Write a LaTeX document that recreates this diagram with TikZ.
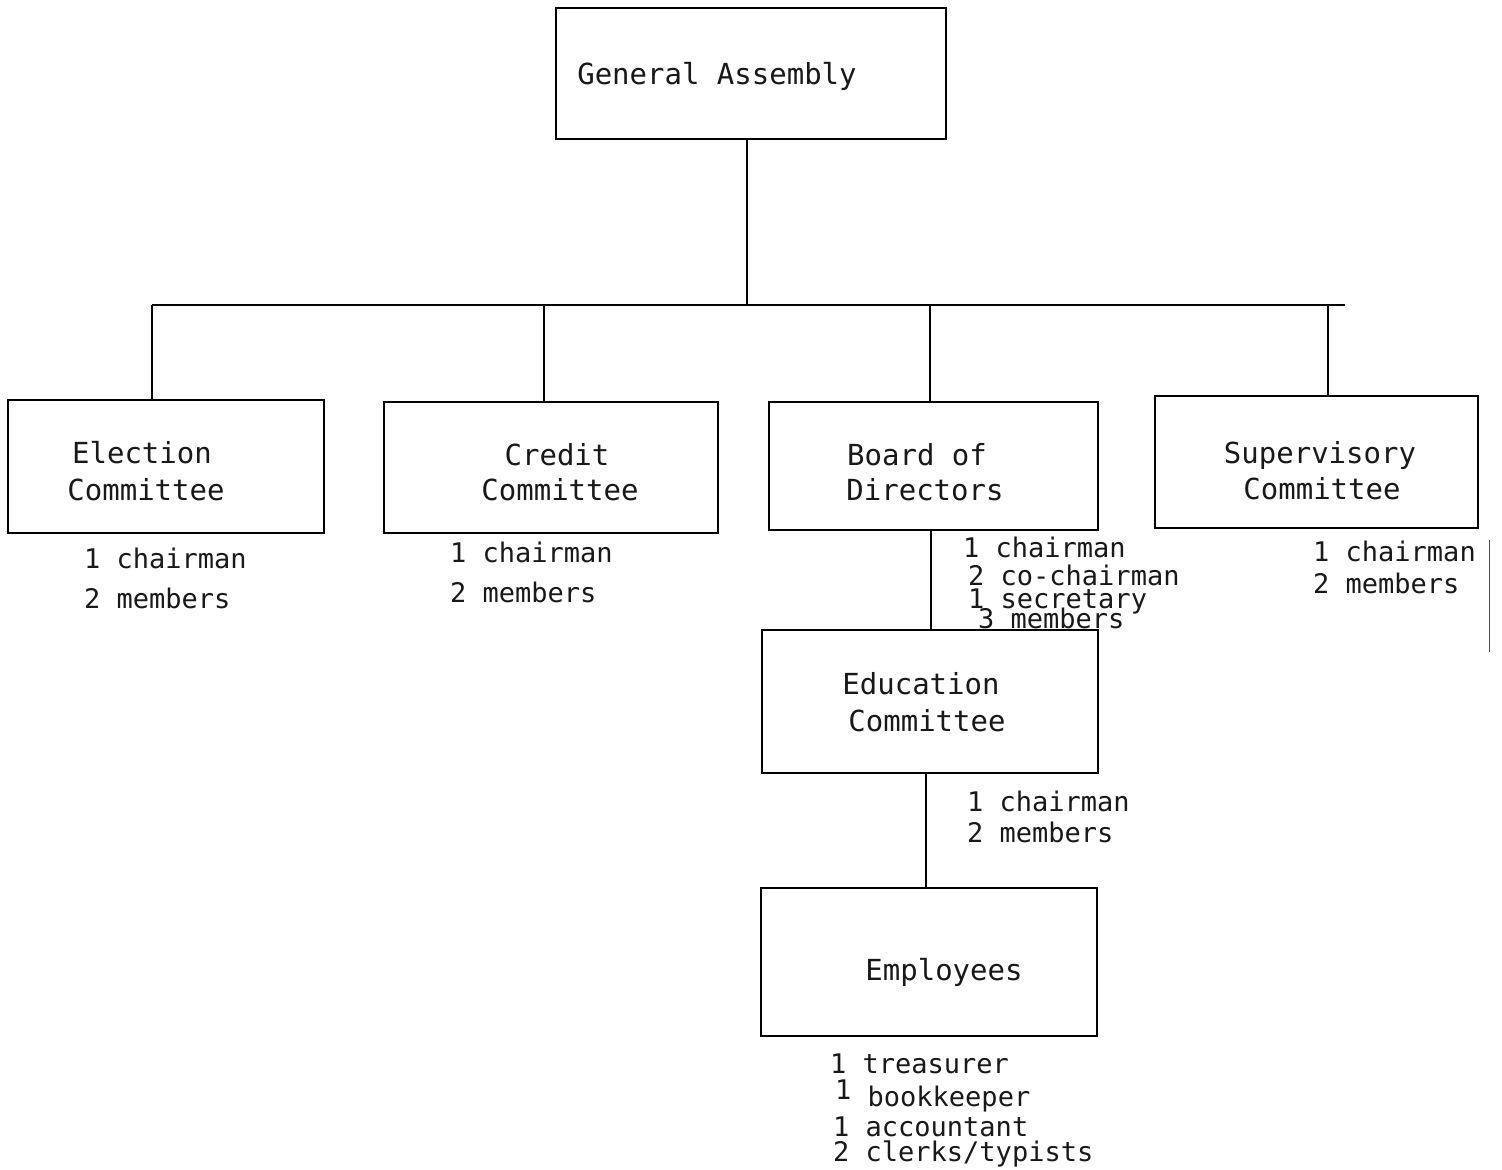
\documentclass[tikz,border=0pt]{standalone}
\usepackage{fontspec}
\newfontfamily\tw{DejaVu Sans Mono}
\begin{document}
\begin{tikzpicture}[x=1pt,y=-1pt,
  orgbox/.style={draw=black, line width=2.4pt, inner sep=0pt, fill=none},
  conn/.style={draw=black, line width=2.2pt},
  boxtxt/.style={anchor=base, inner sep=0pt, text=black!90, font=\tw\fontsize{29}{32}\selectfont},
  lbltxt/.style={anchor=base west, inner sep=0pt, text=black!90, font=\tw\fontsize{27}{30}\selectfont}]
\useasboundingbox (0,0) rectangle (1502,1170);
\fill[white] (0,0) rectangle (1502,1170);

% boxes
\node[orgbox, minimum width=390pt, minimum height=131pt] (ga) at (751,73.5) {};
\node[orgbox, minimum width=316pt, minimum height=133pt] (elec) at (166,466.5) {};
\node[orgbox, minimum width=334pt, minimum height=131pt] (cred) at (551,467.5) {};
\node[orgbox, minimum width=329pt, minimum height=128pt] (board) at (933.5,466) {};
\node[orgbox, minimum width=323pt, minimum height=132pt] (sup) at (1316.5,462) {};
\node[orgbox, minimum width=336pt, minimum height=143pt] (edu) at (930,701.5) {};
\node[orgbox, minimum width=336pt, minimum height=148pt] (emp) at (929,962) {};

% box texts
\node[boxtxt] (ga-t) at (717,84) {General Assembly};
\node[boxtxt] (elec-t1) at (142,463) {Election};
\node[boxtxt] (elec-t2) at (146,500) {Committee};
\node[boxtxt] (cred-t1) at (557,465) {Credit};
\node[boxtxt] (cred-t2) at (560,500) {Committee};
\node[boxtxt] (board-t1) at (917,465) {Board of};
\node[boxtxt] (board-t2) at (925,500) {Directors};
\node[boxtxt] (sup-t1) at (1320,463) {Supervisory};
\node[boxtxt] (sup-t2) at (1322,499) {Committee};
\node[boxtxt] (edu-t1) at (921,694) {Education};
\node[boxtxt] (edu-t2) at (927,731) {Committee};
\node[boxtxt] (emp-t) at (944,980) {Employees};

% member labels
\node[lbltxt] (elec-l1) at (84,568) {1 chairman};
\node[lbltxt] (elec-l2) at (84,608) {2 members};
\node[lbltxt] (cred-l1) at (450,562) {1 chairman};
\node[lbltxt] (cred-l2) at (450,602) {2 members};
\node[lbltxt] (board-l1) at (963,557) {1 chairman};
\node[lbltxt] (board-l2) at (968,585) {2 co-chairman};
\node[lbltxt] (board-l3) at (968,608) {1 secretary};
\node[lbltxt] (board-l4) at (978,628) {3 members};
\node[lbltxt] (sup-l1) at (1313,561) {1 chairman};
\node[lbltxt] (sup-l2) at (1313,593) {2 members};
\node[lbltxt] (edu-l1) at (967,811) {1 chairman};
\node[lbltxt] (edu-l2) at (967,842) {2 members};
\node[lbltxt] (emp-l1) at (830,1073) {1 treasurer};
\node[lbltxt] (emp-l2) at (835,1106) {\raisebox{7pt}{1} bookkeeper};
\node[lbltxt] (emp-l3) at (833,1136) {1 accountant};
\node[lbltxt] (emp-l4) at (833,1161) {2 clerks/typists};

% connectors
\coordinate (busC) at (747,305);
\coordinate (busL) at (152,305);
\coordinate (busR) at (1345,305);
\coordinate (d2) at (544,305);
\coordinate (d3) at (930,305);
\coordinate (d4) at (1328,305);
\coordinate (bd) at (931,0);
\coordinate (ed) at (926,0);
\draw[conn] (busC |- ga.south) -- (busC);
\draw[conn] (busL) -- (busR);
\draw[conn] (busL) -- (busL |- elec.north);
\draw[conn] (d2) -- (d2 |- cred.north);
\draw[conn] (d3) -- (d3 |- board.north);
\draw[conn] (d4) -- (d4 |- sup.north);
\draw[conn] (bd |- board.south) -- (bd |- edu.north);
\draw[conn] (ed |- edu.south) -- (ed |- emp.north);

% stray margin line of the scan
\coordinate (m1) at (1489,540);
\coordinate (m2) at (1489,652);
\draw[draw=black!70, line width=1pt] (m1) -- (m2);
\end{tikzpicture}
\end{document}
